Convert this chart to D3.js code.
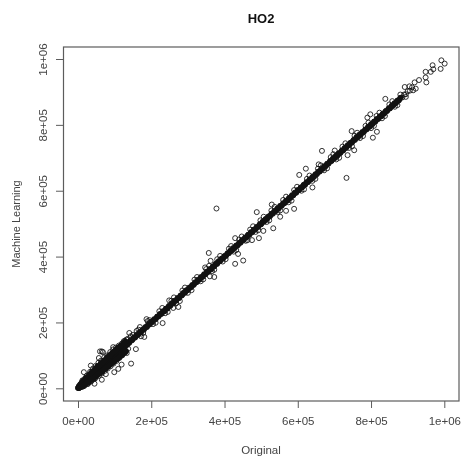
<!DOCTYPE html>
<html>
<head>
<meta charset="utf-8">
<script src="https://cdnjs.cloudflare.com/ajax/libs/d3/7.8.5/d3.min.js"></script>
<style>
  html, body { margin: 0; padding: 0; background: #fff; }
  svg { display: block; filter: blur(0.45px); }
  text { font-family: "Liberation Sans", Arial, sans-serif; fill: #444; }
</style>
</head>
<body>
<svg id="chart"></svg>
<script>
// values in thousands
const tickValues = [0, 200, 400, 600, 800, 1000];
const xTickLabels = ['0e+00', '2e+05', '4e+05', '6e+05', '8e+05', '1e+06'];
const yTickLabels = ['0e+00', '2e+05', '4e+05', '6e+05', '8e+05', '1e+06'];

// the dense band along the diagonal
const bandOriginal = [0,2,3,5,6,8,9,11,12,14,16,18,20,22,24,26,28,30,32,34,36,38,40,42,44,46,48,50,52,54,56,58,60,62,64,66,68,70,72,74,76,78,80,83,86,89,92,95,98,101,104,107,110,113,116,119,122,125,128,131,134,137,140,144,148,152,156,160,164,168,172,176,180,184,188,192,196,200,204,208,212,216,220,224,228,232,236,240,244,248,252,256,260,264,268,272,276,280,284,288,292,296,300,304,308,312,316,320,324,328,332,336,340,344,348,352,356,360,364,368,372,376,380,384,388,392,396,400,404,408,412,416,420,424,428,432,436,440,444,448,452,456,460,464,468,472,476,480,484,488,492,496,500,504,508,512,516,520,524,528,532,536,540,544,548,552,556,560,564,568,572,576,580,584,588,592,596,600,604,608,612,616,620,624,628,632,636,640,644,648,652,656,660,664,668,672,676,680,684,688,692,696,700,704,708,712,716,720,724,728,732,736,740,744,748,752,756,760,764,768,772,776,780,784,788,792,796,800,804,808,812,816,820,824,828,832,836,840,844,848,852,856,860,864,868,872,876,880,885,890,895,900,906,912];
const bandLearned = [1,1,5,4,8,7,11,10,14,13,18,16,22,20,26,24,30,28,34,32,38,36,42,40,46,44,50,48,54,52,58,56,62,60,66,64,70,68,74,72,78,76,82,85,84,91,90,97,96,103,102,109,108,115,114,121,120,127,126,133,132,139,138,146,146,154,154,162,162,170,170,178,178,186,186,194,194,202,202,210,210,218,218,226,226,234,234,242,242,250,250,258,258,266,266,274,274,282,282,290,290,298,298,306,306,314,314,322,322,330,330,338,338,346,346,354,354,362,362,370,370,378,378,386,386,394,394,402,402,410,410,418,418,426,426,434,434,442,442,450,450,458,458,466,466,474,474,482,482,490,490,498,498,506,506,514,514,522,522,530,530,538,538,546,546,554,554,562,562,570,570,578,578,586,586,594,594,602,602,610,610,618,618,626,626,634,634,642,642,650,650,658,658,666,666,674,674,682,682,690,690,698,698,706,706,714,714,722,722,730,730,738,738,746,746,754,754,762,762,770,770,778,778,786,786,794,794,802,802,810,810,818,818,826,826,834,834,842,842,850,850,858,858,866,866,874,874,882,883,892,893,902,904,914];

// upper and lower edges of the wide low end
const upperOriginal = [2,6,10,14,18,22,26,30,34,38,42,46,50,54,58,62,66,70,74,78,82,86,90,94,98,102,106,110,114,118,122,126,130];
const upperLearned = [6,12,16,21,24,30,33,38,43,46,52,55,60,65,68,74,77,82,86,90,95,98,103,107,110,115,118,123,126,130,134,138,142];
const lowerOriginal = [3,7,11,15,19,23,27,31,35,39,43,47,51,55,59,63,67,71,75,79,83,87,91,95,99,103,107,111,115,119,123,127,131];
const lowerLearned = [1,3,5,9,12,16,18,22,26,30,32,36,40,43,46,50,53,57,60,64,67,71,75,78,82,86,89,93,97,101,105,109,113];

// wider spread around the band, low end and middle
const spreadOriginal = [10,14,18,22,26,30,34,38,42,46,50,54,58,62,66,70,74,78,82,86,90,94,98,102,106,110,20,28,36,44,52,60,68,76,84,92,100,108,116,124,132,150,165,178,195,205,222,238,255,268,285,300,318,335,350,366,380,395,412,425,440,458,470,485,498,515,528,545,560,575,590,610,625,640,655,672,690,705,722,740,755,770,785,800,815,830,850,865,880,895,905,915,12,24,33,41,48,56,63,72,80,88,96,104,112,120,128,136,144,15,27,37,47,57,65,73,81,89,97,105,113,121,129,137,160,172,190,212,230,245,262,278,292,310,325,342,358,372,388,403,418,432,447,463,478,492,507,522,537,552,568,583,598,617,632,648,663,680,697,713,730,748,762,778,793,808,823,838,858,872];
const spreadLearned = [18,24,8,32,14,42,20,50,28,58,36,68,44,76,50,82,60,92,68,100,76,108,84,116,92,124,31,17,47,30,66,46,78,60,98,78,112,90,128,108,148,162,178,168,207,195,234,228,266,258,297,290,330,325,362,356,392,385,424,415,452,448,482,475,510,505,540,535,572,565,602,600,636,630,667,662,702,695,734,730,767,760,797,790,827,820,862,855,892,885,917,905,24,38,50,60,68,78,84,94,100,110,118,124,130,136,144,150,158,6,13,22,30,38,45,53,60,67,75,83,92,100,109,120,174,158,204,199,244,232,276,265,306,298,338,331,372,360,402,392,432,420,461,450,492,480,521,510,551,540,582,570,612,604,646,636,677,668,711,700,744,735,776,766,807,797,837,827,872,860];

// the circles that stand clear of the band
const looseOriginal = [378,733,666,992,1001,990,968,949,963,949,970,931,919,951,922,892,839,798,790,816,805,747,701,736,754,604,622,657,640,488,590,552,529,568,429,451,494,475,429,533,506,437,357,362,347,372,360,274,260,249,231,187,169,181,140,158,145,133,125,96,65,57,35,16,119,110,99,76,65,45,60,68];
const looseLearned = [546,639,721,996,986,970,981,961,961,944,969,936,929,929,910,915,879,832,822,779,761,781,722,708,723,648,667,680,610,535,545,521,558,539,378,388,456,450,456,486,478,408,411,387,367,338,340,247,244,267,198,210,186,156,168,119,75,107,143,125,112,92,69,49,72,59,49,43,26,14,112,110];

const toPoints = (xs, ys) => xs.map((d, i) => [d, ys[i]]);
const bandPoints = toPoints(bandOriginal, bandLearned);
const upperPoints = toPoints(upperOriginal, upperLearned);
const lowerPoints = toPoints(lowerOriginal, lowerLearned);
const points = [
  ...toPoints(spreadOriginal, spreadLearned),
  ...toPoints(looseOriginal, looseLearned),
  ...upperPoints,
  ...lowerPoints,
  ...bandPoints
];

const width = 462, height = 457;
const margin = { top: 47, right: 3, bottom: 56, left: 63 };

const svg = d3.select('#chart')
    .attr('width', width)
    .attr('height', height);

// R pads the range by 4%, the plot box sits outside the tick range
const x = d3.scaleLinear().domain([0, 1000]).range([78, 444.3]);
const y = d3.scaleLinear().domain([0, 1000]).range([388.3, 59]);

const axisColor = '#5c5c5c';

// Plot box
svg.append('rect')
    .attr('x', margin.left + 0.5)
    .attr('y', margin.top)
    .attr('width', width - margin.left - margin.right - 0.5)
    .attr('height', height - margin.top - margin.bottom)
    .attr('fill', 'none')
    .attr('stroke', axisColor)
    .attr('stroke-width', 1.2);

// X axis
const xAxis = d3.axisBottom(x)
    .tickValues(tickValues)
    .tickFormat((d, i) => xTickLabels[i])
    .tickSize(7)
    .tickPadding(9);

const xAxisG = svg.append('g')
    .attr('transform', `translate(0,${height - margin.bottom})`)
    .call(xAxis);

// Y axis
const yAxis = d3.axisLeft(y)
    .tickValues(tickValues)
    .tickFormat((d, i) => yTickLabels[i])
    .tickSize(7)
    .tickPadding(4);

const yAxisG = svg.append('g')
    .attr('transform', `translate(${margin.left},0)`)
    .call(yAxis);

[xAxisG, yAxisG].forEach(g => {
  g.select('.domain').remove();
  g.selectAll('.tick line').attr('stroke', axisColor);
  g.selectAll('.tick text')
      .attr('font-size', 11.5)
      .style('font-family', '"Liberation Sans", Arial, sans-serif')
      .style('fill', '#444');
});

// Rotate the y labels the way R does
yAxisG.selectAll('.tick text')
    .attr('transform', 'rotate(-90)')
    .attr('x', 0)
    .attr('y', -16)
    .attr('dy', 0)
    .attr('text-anchor', 'middle');

// Points
svg.append('g')
  .selectAll('circle')
    .data(points)
  .join('circle')
    .attr('cx', d => x(d[0]))
    .attr('cy', d => y(d[1]))
    .attr('r', 2.5)
    .attr('fill', 'none')
    .attr('stroke', '#111')
    .attr('stroke-width', 0.85);

// The circles overplot to solid black along the band and in the low end wedge
const bandLine = d3.line()
    .x(d => x(d[0]))
    .y(d => y(d[1]));

const solidRuns = [bandPoints.filter(d => d[0] <= 880), upperPoints, lowerPoints];

svg.append('g')
  .selectAll('path')
    .data(solidRuns)
  .join('path')
    .attr('d', bandLine)
    .attr('fill', 'none')
    .attr('stroke', '#111')
    .attr('stroke-width', 5.5)
    .attr('stroke-linecap', 'round')
    .attr('stroke-linejoin', 'round');

// Titles
svg.append('text')
    .attr('x', 261)
    .attr('y', 23)
    .attr('text-anchor', 'middle')
    .attr('font-size', 13)
    .attr('font-weight', 'bold')
    .style('fill', '#111')
    .text('HO2');

svg.append('text')
    .attr('x', 261)
    .attr('y', 454)
    .attr('text-anchor', 'middle')
    .attr('font-size', 11.5)
    .text('Original');

svg.append('text')
    .attr('transform', 'translate(20,224) rotate(-90)')
    .attr('text-anchor', 'middle')
    .attr('font-size', 11)
    .text('Machine Learning');
</script>
</body>
</html>
